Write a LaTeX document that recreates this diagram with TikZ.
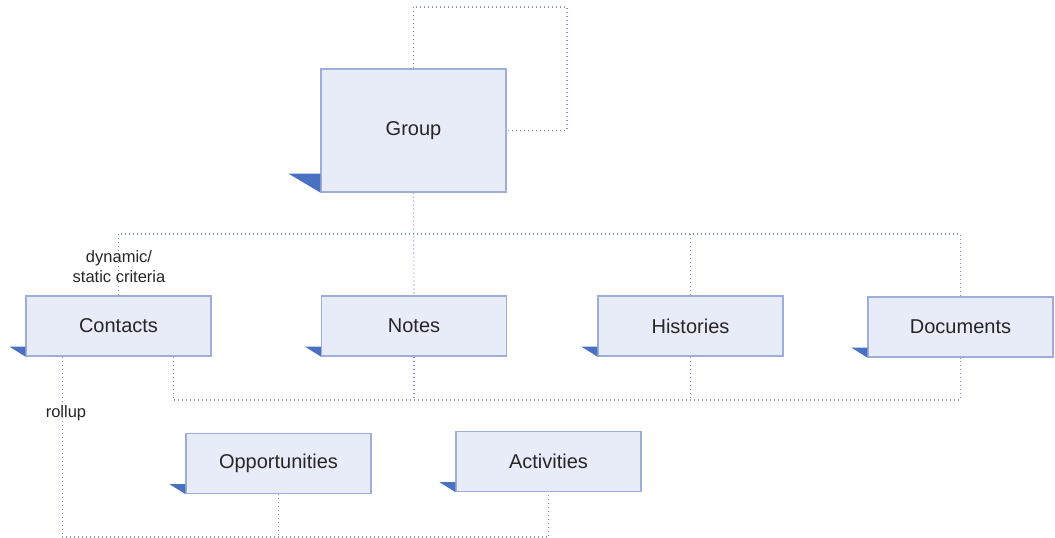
\documentclass[tikz,border=0pt]{standalone}
\usepackage{fontspec}
\setmainfont{Liberation Sans}
\definecolor{boxfill}{HTML}{E8ECF8}
\definecolor{boxline}{HTML}{9DAFD9}
\definecolor{tabblue}{HTML}{4A70C2}
\definecolor{linkblue}{HTML}{8495C6}
\tikzset{
	entity/.style={draw=boxline,fill=boxfill,line width=1.2pt,minimum width=185pt,minimum height=60pt,inner sep=0pt,font=\fontsize{20}{24}\selectfont,text=black!85},
	link/.style={linkblue,line width=1.1pt,dash pattern=on 1pt off 3pt},
	tag/.style={font=\fontsize{16.5}{20}\selectfont,text=black!85,align=center}
}
\begin{document}
\begin{tikzpicture}[x=1pt,y=-1pt]
		\useasboundingbox (0,0) rectangle (1055,538);
		%entities
		\node[entity,minimum height=123pt] (group) at (413.5,130.5) {Group};
		\node[entity] (contacts) at (118.5,326) {Contacts};
		\node[entity] (notes) at (414,326) {Notes};
		\node[entity] (histories) at (690.5,326) {Histories};
		\node[entity] (documents) at (960.5,327) {Documents};
		\node[entity] (opportunities) at (278.5,463.5) {Opportunities};
		\node[entity] (activities) at (548.5,461.5) {Activities};
		\foreach \n in {contacts,notes,histories,documents,opportunities,activities}
		\fill[tabblue] (\n.south west) -- ++(-16,-10) -- ++(16,0) -- cycle;
		\fill[tabblue] (group.south west) -- ++(-32,-19) -- ++(32,0) -- cycle;
		%links
		\coordinate (loop) at (567,7);
		\coordinate (bus1) at (0,234);
		\coordinate (bus2) at (0,400);
		\coordinate (bus3) at (0,537);
		\coordinate (c1) at ([xshift=-38pt]contacts.south east);
		\coordinate (c2) at ([xshift=37pt]contacts.south west);
		\draw[link] (group.north) |- (loop) |- (group.east);
		\draw[link] (contacts.north) |- (documents.north |- bus1) -- (documents.north);
		\draw[link] (group.south) -- (notes.north);
		\draw[link] (histories.north |- bus1) -- (histories.north);
		\draw[link] (c1) |- (documents.south |- bus2) -- (documents.south);
		\draw[link] (notes.south) -- (notes.south |- bus2);
		\draw[link] (histories.south) -- (histories.south |- bus2);
		\draw[link] (c2) |- (activities.south |- bus3) -- (activities.south);
		\draw[link] (opportunities.south) -- (opportunities.south |- bus3);
		%labels
		\node[tag] (criteria) at (119,267) {dynamic/\\static criteria};
		\node[tag] (rollup) at (66,413) {rollup};
\end{tikzpicture}
\end{document}
